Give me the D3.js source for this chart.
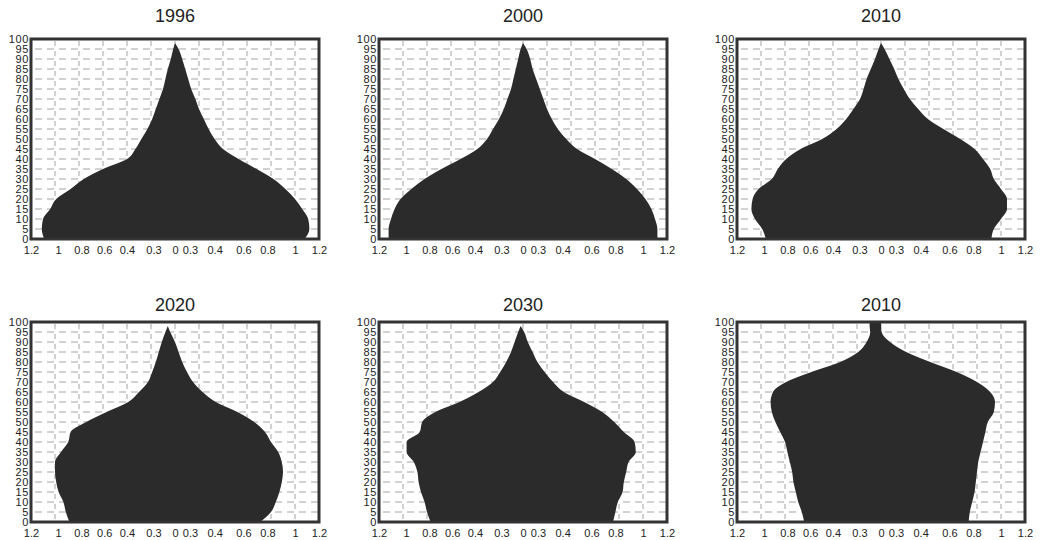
<!DOCTYPE html>
<html>
<head>
<meta charset="utf-8">
<script src="https://cdn.jsdelivr.net/npm/d3@7"></script>
<style>
  body { margin: 0; background: #fff; }
  svg { display: block; }
  .title { font-family: "Liberation Sans", Arial, sans-serif; font-size: 18px; fill: #222; }
  .ax text { fill: #222; font-family: "Liberation Sans", Arial, sans-serif; font-size: 11px; }
  .ax path { display: none; }
  .grid line { stroke: #a4a4a4; stroke-width: 1; }
</style>
</head>
<body>
<svg width="1042" height="540"></svg>
<script>
// ages (years) used for every panel
const ages = [0,5,10,15,20,25,30,35,40,45,50,55,60,65,70,75,80,85,90,95,98,100];

// tick labels along the bottom, and where they sit on the value axis
const xTickPos    = [-1.2,-0.975,-0.78,-0.59,-0.4,-0.18,0,0.125,0.33,0.57,0.77,1.0,1.2];
const xTickLabels = ["1.2","1","0.8","0.6","0.4","0.3","0","0.3","0.4","0.6","0.8","1","1.2"];
const yTicks = d3.range(0,101,5);

const titles = ["1996","2000","2010","2020","2030","2010"];

// left side (drawn to the left of 0) and right side, one value per age
const left1996  = [1.09,1.11,1.10,1.04,0.99,0.87,0.76,0.60,0.40,0.33,0.28,0.23,0.19,0.16,0.13,0.10,0.08,0.06,0.035,0.015,0,null];
const right1996 = [1.08,1.12,1.11,1.06,1.00,0.92,0.82,0.68,0.53,0.40,0.33,0.28,0.24,0.20,0.17,0.135,0.11,0.085,0.06,0.03,0,null];

const left2000  = [1.12,1.12,1.10,1.07,1.02,0.93,0.82,0.68,0.52,0.38,0.30,0.25,0.20,0.16,0.13,0.10,0.08,0.06,0.04,0.02,0,null];
const right2000 = [1.12,1.12,1.10,1.07,1.02,0.95,0.86,0.74,0.60,0.45,0.36,0.29,0.24,0.20,0.17,0.14,0.11,0.08,0.06,0.03,0,null];

const left2010  = [0.96,0.99,1.05,1.08,1.07,1.02,0.91,0.86,0.79,0.67,0.49,0.37,0.29,0.23,0.175,0.145,0.12,0.085,0.05,0.02,0,null];
const right2010 = [0.92,0.94,1.00,1.05,1.05,1.00,0.94,0.91,0.85,0.78,0.66,0.52,0.39,0.31,0.24,0.19,0.145,0.11,0.07,0.03,0,null];

const left2020  = [0.88,0.91,0.93,0.97,0.99,1.00,1.00,0.95,0.89,0.87,0.74,0.57,0.39,0.30,0.225,0.19,0.16,0.135,0.11,0.08,0.06,null];
const right2020 = [0.71,0.80,0.84,0.87,0.89,0.90,0.89,0.86,0.80,0.75,0.66,0.52,0.34,0.23,0.15,0.10,0.06,0.03,0.0,-0.04,-0.06,null];

const left2030  = [0.77,0.80,0.82,0.85,0.87,0.88,0.91,0.97,0.97,0.86,0.84,0.73,0.53,0.37,0.25,0.19,0.14,0.10,0.07,0.04,0.02,null];
const right2030 = [0.75,0.77,0.79,0.83,0.84,0.86,0.88,0.94,0.93,0.84,0.76,0.66,0.51,0.34,0.25,0.18,0.12,0.08,0.04,0.01,-0.02,null];

const left2010b  = [0.64,0.66,0.69,0.71,0.73,0.74,0.76,0.78,0.80,0.84,0.88,0.91,0.92,0.90,0.79,0.58,0.34,0.19,0.12,0.09,0.095,0.095];
const right2010b = [0.73,0.74,0.76,0.78,0.79,0.80,0.81,0.83,0.85,0.87,0.89,0.94,0.95,0.91,0.80,0.63,0.41,0.21,0.075,0.005,0,0];

const lefts  = [left1996,left2000,left2010,left2020,left2030,left2010b];
const rights = [right1996,right2000,right2010,right2020,right2030,right2010b];

const svg = d3.select('svg');
const panelW = 288, panelH = 200;
const colX = [31, 379, 737];
const rowY = [39, 322];
const titleY = [22, 311];

titles.forEach((t,i) => {
  const col = i % 3, row = Math.floor(i/3);
  const x0 = colX[col], y0 = rowY[row];

  const x = d3.scaleLinear().domain([-1.2,1.2]).range([x0, x0+panelW]);
  const y = d3.scaleLinear().domain([0,100]).range([y0+panelH, y0]);

  const g = svg.append('g');

  g.append('text').attr('class','title')
    .attr('x', x(0)).attr('y', titleY[row])
    .attr('text-anchor','middle').text(t);

  // dashed grid
  const grid = g.append('g').attr('class','grid');
  grid.selectAll('line.h').data(d3.range(5,100,5)).join('line')
    .attr('class','h')
    .attr('x1', x0).attr('x2', x0+panelW)
    .attr('y1', d=>y(d)).attr('y2', d=>y(d))
    .attr('stroke-dasharray','7,5').attr('stroke-dashoffset',-4);
  grid.selectAll('line.v').data(d3.range(-1,1.01,0.2)).join('line')
    .attr('class','v')
    .attr('x1', d=>x(d)).attr('x2', d=>x(d))
    .attr('y1', y0).attr('y2', y0+panelH)
    .attr('stroke-dasharray','5,5').attr('stroke-dashoffset',-2);

  const data = ages.map((a,k) => ({age:a, l:lefts[i][k], r:rights[i][k]}));
  const area = d3.area()
    .defined(d => d.r != null)
    .y(d => y(d.age))
    .x0(d => x(-d.l))
    .x1(d => x(d.r))
    .curve(d3.curveMonotoneY);

  g.append('path').datum(data)
    .attr('d', area)
    .attr('fill','#2b2b2b');

  // frame
  g.append('rect')
    .attr('x', x0).attr('y', y0)
    .attr('width', panelW).attr('height', panelH)
    .attr('fill','none').attr('stroke','#333').attr('stroke-width',3);

  // axes
  g.append('g').attr('class','ax')
    .attr('transform',`translate(${x0},0)`)
    .call(d3.axisLeft(y).tickValues(yTicks).tickSize(0).tickPadding(2))
    .selectAll('text')
      .style('letter-spacing','0.6px');

  g.append('g').attr('class','ax')
    .attr('transform',`translate(0,${y0+panelH+1})`)
    .call(d3.axisBottom(x).tickValues(xTickPos).tickFormat((d,k)=>xTickLabels[k]).tickSize(0).tickPadding(6));
});
</script>
</body>
</html>
